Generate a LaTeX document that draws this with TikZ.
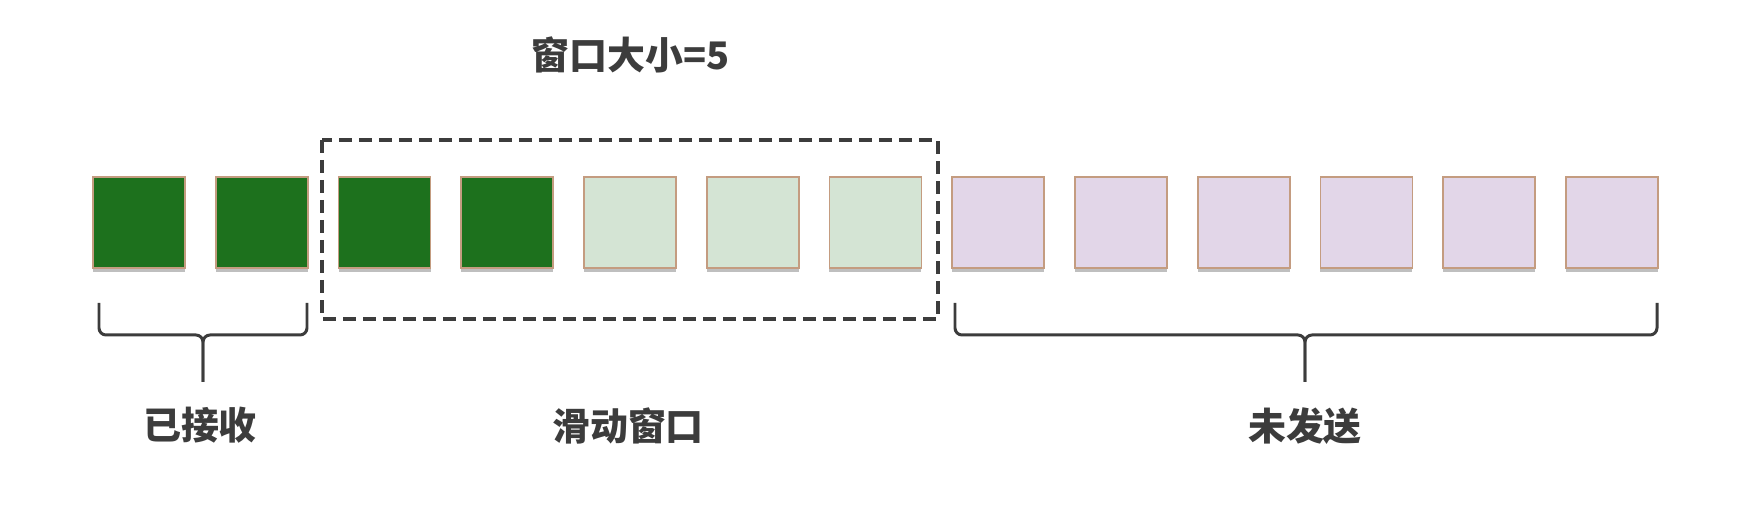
\documentclass[tikz,border=0pt]{standalone}
\usepackage{fontspec}
\setmainfont{Noto Sans CJK SC}
\usetikzlibrary{shadows}
\definecolor{acked}{RGB}{29,113,29}
\definecolor{sent}{RGB}{212,228,212}
\definecolor{unsent}{RGB}{226,214,232}
\definecolor{rim}{RGB}{196,156,128}
\definecolor{ink}{RGB}{60,60,60}
\tikzset{
  pkt/.style={draw=rim, line width=0.5pt, minimum width=0.92cm, minimum height=0.91cm, inner sep=0pt,
    drop shadow={shadow xshift=0pt, shadow yshift=-0.04cm, opacity=0.25, fill=black}},
  lbl/.style={text=ink, font=\fontsize{10.8}{13}\selectfont\bfseries},
  brace/.style={draw=ink, line width=0.85pt, rounded corners=0.07cm}
}
\begin{document}
\begin{tikzpicture}
    \useasboundingbox (0,0) rectangle (17.48,5.14);
    % packets
    \foreach \i in {0,...,12} {
        \ifnum\i<4 \def\c{acked}\else\ifnum\i<7 \def\c{sent}\else\def\c{unsent}\fi\fi
        \node[pkt, fill=\c] (b\i) at (1.39+1.2275*\i,2.915) {};
    }
    % window
    \draw[ink, line width=1.1pt, dash pattern=on 0.13cm off 0.07cm] (3.22,3.74) rectangle (9.38,1.95);
    \node[lbl] (size) at (6.31,4.59) {窗口大小=5};
    % braces
    \draw[brace] (0.99,2.11) -- (0.99,1.79) -- (2.03,1.79) -- (2.03,1.32);
    \draw[brace] (3.07,2.11) -- (3.07,1.79) -- (2.03,1.79) -- (2.03,1.32);
    \draw[brace] (9.55,2.11) -- (9.55,1.79) -- (13.05,1.79) -- (13.05,1.32);
    \draw[brace] (16.57,2.11) -- (16.57,1.79) -- (13.05,1.79) -- (13.05,1.32);
    \node[lbl] (recv) at (2.00,0.89) {已接收};
    \node[lbl] (win) at (6.28,0.88) {滑动窗口};
    \node[lbl] (todo) at (13.05,0.88) {未发送};
\end{tikzpicture}
\end{document}
